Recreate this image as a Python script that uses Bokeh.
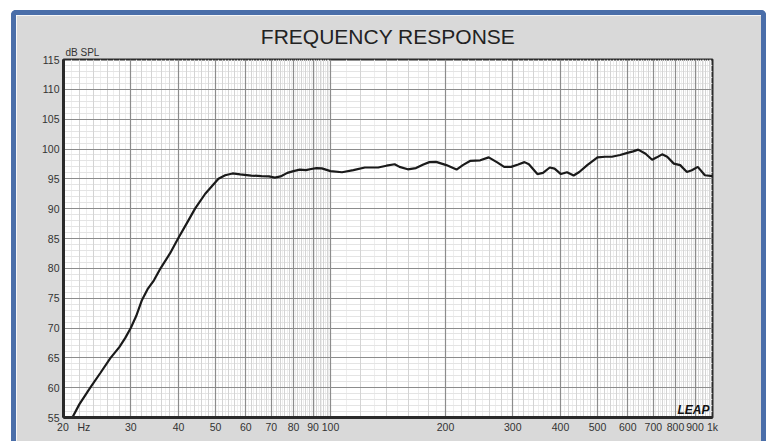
from bokeh.plotting import figure
from bokeh.models import FixedTicker, Grid, Label, Range1d, Title
from bokeh.embed import file_html
from bokeh.resources import INLINE

# ---- data ----
freq = [21.1, 22.0, 23.5, 25.0, 26.5, 28.0, 29.0, 30.0, 31.0, 32.1, 33.2, 34.5, 35.9,
        38.0, 39.9, 42.0, 44.2, 47.0, 50.9, 53.0, 55.4, 58.0, 62.0, 66.0, 69.0,
        71.5, 74.0, 77.1, 80.0, 83.1, 86.2, 89.0, 91.9, 94.9, 100.0, 107.2, 114.8,
        123.0, 133.3, 140.1, 147.2, 151.6, 159.3, 167.4, 175.0, 181.5, 189.0,
        201.0, 213.8, 222.0, 231.8, 246.6, 259.5, 273.2, 284.8, 297.0, 310.0,
        322.0, 330.6, 348.0, 360.0, 375.0, 386.0, 401.0, 416.0, 433.0, 448.0,
        470.0, 500.0, 524.0, 545.0, 573.0, 602.0, 620.0, 639.0, 668.0, 695.0,
        715.0, 738.0, 761.0, 792.0, 823.0, 857.0, 883.0, 915.0, 955.0, 1000.0]
spl = [55.0, 57.2, 60.0, 62.5, 64.9, 66.8, 68.3, 70.0, 72.0, 74.7, 76.5, 78.0, 80.0,
       82.5, 85.0, 87.5, 90.0, 92.5, 95.0, 95.6, 95.9, 95.75, 95.55, 95.45, 95.4,
       95.2, 95.4, 96.0, 96.3, 96.55, 96.45, 96.65, 96.8, 96.75, 96.3, 96.1, 96.45,
       96.9, 96.9, 97.2, 97.45, 97.0, 96.6, 96.8, 97.4, 97.8, 97.85,
       97.3, 96.55, 97.3, 98.0, 98.1, 98.6, 97.75, 97.0, 97.0, 97.4,
       97.8, 97.45, 95.8, 96.0, 96.9, 96.7, 95.8, 96.1, 95.55, 96.15,
       97.3, 98.6, 98.7, 98.7, 99.0, 99.4, 99.6, 99.9, 99.2, 98.2,
       98.6, 99.1, 98.7, 97.55, 97.3, 96.15, 96.45, 97.0, 95.6, 95.45]

NB = "\u00a0"
x_ticks = [20, 30, 40, 50, 60, 70, 80, 90, 100, 200, 300, 400, 500, 600, 700, 800, 900, 1000]
x_tick_labels = [NB * 7 + "20" + NB * 3 + "Hz", "30", "40", "50", "60", "70", "80", "90",
                 "100", "200", "300", "400", "500", "600", "700", "800", "900", "1k"]
y_ticks = [55, 60, 65, 70, 75, 80, 85, 90, 95, 100, 105, 110, 115]

title_text = "FREQUENCY RESPONSE"
y_unit_text = "dB SPL"
logo_text = "LEAP"

# grid positions of the graph paper
medium_x = [v for v in range(22, 100, 2) if v % 10] + [v for v in range(120, 1000, 20) if v % 100]
light_x = [v for v in range(21, 100, 2)] + [v for v in range(110, 1000, 20)]
minor_y = [v for v in range(56, 115) if v % 5]

p = figure(width=755, height=431, x_axis_type="log", title=None,
           x_range=Range1d(20, 1000), y_range=Range1d(55, 115),
           output_backend="svg", toolbar_location=None,
           min_border_left=47, min_border_right=59, min_border_top=44, min_border_bottom=29)
p.styles = {"border-style": "solid", "border-color": "#4a6ea9",
            "border-width": "5px 5px 0px 5px", "border-radius": "5px 5px 0px 0px",
            "margin-left": "11px", "margin-top": "10px"}

p.background_fill_color = "white"
p.border_fill_color = "#d9d9d9"
p.outline_line_color = "#2a2a2a"
p.outline_line_width = 2

# grids
p.xgrid.ticker = FixedTicker(ticks=x_ticks)
p.xgrid.grid_line_color = "#8c8c8c"
p.xgrid.grid_line_width = 1.2
p.ygrid.ticker = FixedTicker(ticks=y_ticks)
p.ygrid.grid_line_color = "#8c8c8c"
p.ygrid.grid_line_width = 1.2

g_light_x = Grid(dimension=0, ticker=FixedTicker(ticks=light_x), grid_line_color="#eeeeee", grid_line_width=1)
g_minor_y = Grid(dimension=1, ticker=FixedTicker(ticks=minor_y), grid_line_color="#e4e4e4", grid_line_width=1)
g_medium_x = Grid(dimension=0, ticker=FixedTicker(ticks=medium_x), grid_line_color="#d4d4d4", grid_line_width=1)
p.center = [g_light_x, g_minor_y, g_medium_x] + list(p.center)

# axes
for ax in (p.xaxis, p.yaxis):
    ax.major_tick_line_color = None
    ax.minor_tick_line_color = None
    ax.major_tick_out = 0
    ax.major_tick_in = 0
    ax.minor_tick_out = 0
    ax.minor_tick_in = 0
    ax.axis_line_color = "#2a2a2a"
    ax.axis_line_width = 3
    ax.major_label_text_font = "Liberation Sans"
    ax.major_label_text_font_size = "10.5px"
    ax.major_label_text_color = "#333333"

p.xaxis.ticker = FixedTicker(ticks=x_ticks)
p.xaxis.major_label_overrides = dict(zip(x_ticks, x_tick_labels))
p.xaxis.major_label_standoff = 3
p.yaxis.ticker = FixedTicker(ticks=y_ticks)
p.yaxis.major_label_standoff = 4

# curve
p.line(freq, spl, line_color="#1a1a1a", line_width=2.2)

# titles
p.add_layout(Title(text=y_unit_text, align="left", offset=2, standoff=3,
                   text_font="Liberation Sans", text_font_size="10px",
                   text_font_style="normal", text_color="#333333"), "above")
p.add_layout(Title(text=title_text, align="center", standoff=-8,
                   text_font="Liberation Sans", text_font_size="21px",
                   text_font_style="normal", text_color="#222222"), "above")

# logo inside the frame
p.add_layout(Label(x=1000, y=55, x_offset=-3, y_offset=8, text=logo_text,
                   text_align="right", text_baseline="alphabetic",
                   text_font="Liberation Sans", text_font_size="12px",
                   text_font_style="bold italic", text_color="#111111"))

open("out.html", "w").write(file_html(p, INLINE))
